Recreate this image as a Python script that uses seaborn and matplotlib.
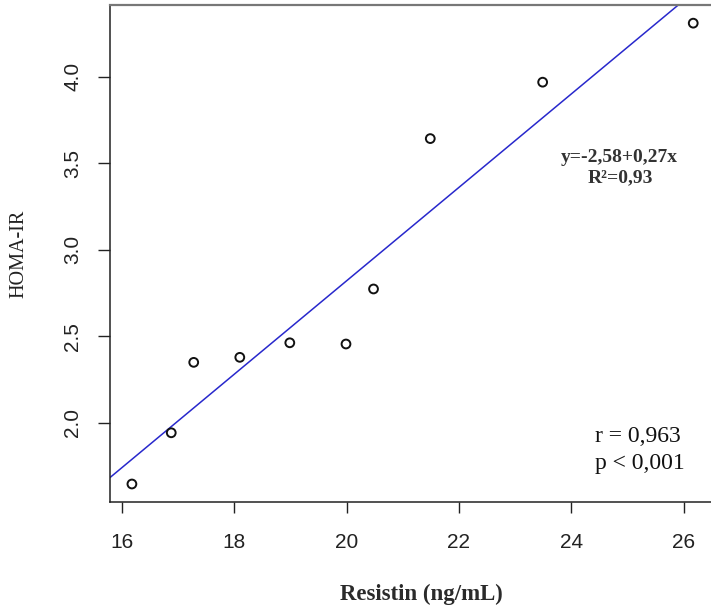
import numpy as np
import pandas as pd
import matplotlib
matplotlib.use("Agg")
import matplotlib.pyplot as plt
import seaborn as sns

# values
resistin = [16.18, 16.88, 17.28, 18.10, 18.99, 19.99, 20.48, 21.49, 23.49, 26.17]
homa_ir = [1.646, 1.942, 2.349, 2.378, 2.462, 2.455, 2.773, 3.642, 3.968, 4.309]
intercept, slope = -2.58, 0.27
xticks = [16, 18, 20, 22, 24, 26]
yticks = [2.0, 2.5, 3.0, 3.5, 4.0]

df = pd.DataFrame({"Resistin": resistin, "HOMA": homa_ir})

sns.set_style("ticks")
serif = ["Liberation Serif", "DejaVu Serif"]
sans = ["Liberation Sans", "DejaVu Sans"]

W, H = 711, 612
fig = plt.figure(figsize=(W / 100, H / 100), dpi=100)
# plot region runs a little past the right edge, as in the cropped original
ax = fig.add_axes([110 / W, 1 - 502 / H, (732 - 110) / W, (502 - 5) / H])

sns.scatterplot(data=df, x="Resistin", y="HOMA", ax=ax, marker="o", s=40,
                facecolor="none", edgecolor="#111111", linewidth=1.4, zorder=3)
ax.axline((0, intercept), slope=slope, color="#2828cc", lw=1.1, zorder=2)

ax.set_xlim(15.79, 26.86)
ax.set_ylim(1.542, 4.414)
ax.set_xticks(xticks)
ax.set_xticklabels([str(t) for t in xticks], family=sans, fontsize=15)
ax.set_yticks(yticks)
ax.set_yticklabels([f"{t:.1f}" for t in yticks], family=sans, fontsize=15,
                   rotation=90, va="center")
ax.tick_params(axis="x", length=8, width=1, pad=14, colors="#222222")
ax.tick_params(axis="y", length=9, width=1, pad=11, colors="#222222")

ax.set_xlabel("Resistin (ng/mL)", family=serif, fontsize=16.5, fontweight="bold",
              labelpad=23, color="#2a2a2a")
ax.set_ylabel("HOMA-IR", family=serif, fontsize=14.5, labelpad=25, color="#222222")

ax.spines["right"].set_visible(False)
ax.spines["top"].set_color("#777777")
ax.spines["top"].set_linewidth(1.6)
for s in ("left", "bottom"):
    ax.spines[s].set_color("#222222")
    ax.spines[s].set_linewidth(1.1)

fig.text(619 / W, 1 - 157 / H, "y=-2,58+0,27x", family=serif, fontsize=14,
         fontweight="bold", ha="center", va="center", color="#333333")
fig.text(620 / W, 1 - 178 / H, "R²=0,93", family=serif, fontsize=14,
         fontweight="bold", ha="center", va="center", color="#333333")
fig.text(595 / W, 1 - 437 / H, "r = 0,963", family=serif, fontsize=17,
         ha="left", va="center", color="#111111")
fig.text(595 / W, 1 - 463 / H, "p < 0,001", family=serif, fontsize=17,
         ha="left", va="center", color="#111111")

fig.savefig("out.png", dpi=100)
